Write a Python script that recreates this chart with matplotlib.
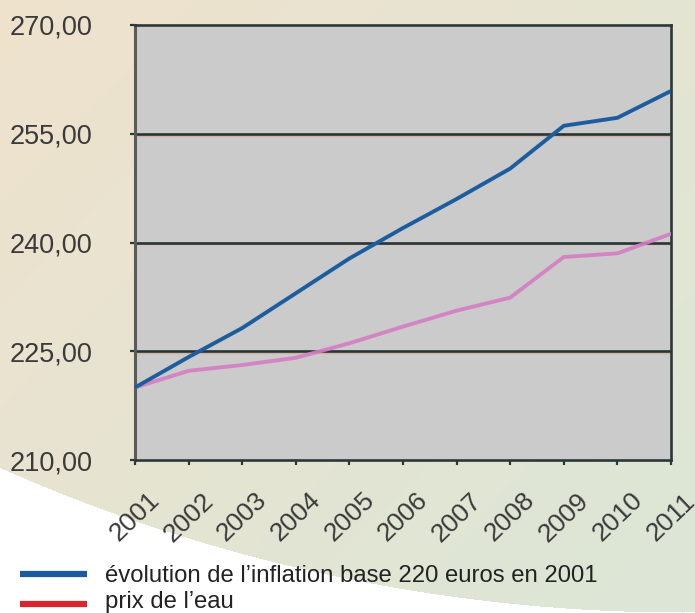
import numpy as np
import matplotlib
matplotlib.use("Agg")
import matplotlib.pyplot as plt

years = [2001, 2002, 2003, 2004, 2005, 2006, 2007, 2008, 2009, 2010, 2011]
inflation = [220.0, 224.2, 228.2, 233.0, 237.8, 242.0, 246.0, 250.2, 256.1, 257.2, 260.9]
prix_eau = [220.0, 222.3, 223.1, 224.1, 226.1, 228.4, 230.6, 232.4, 238.0, 238.5, 241.2]
y_ticks = [210, 225, 240, 255, 270]
y_tick_labels = ["210,00", "225,00", "240,00", "255,00", "270,00"]
x_tick_labels = [str(y) for y in years]
legend_labels = ["évolution de l\u2019inflation base 220 euros en 2001", "prix de l\u2019eau"]

W, H = 695, 613
fig = plt.figure(figsize=(W / 100, H / 100), dpi=100)
fig.patch.set_facecolor("white")

# background gradient with white arc at lower left
bg = fig.add_axes([0, 0, 1, 1], zorder=0)
yy, xx = np.mgrid[0:H, 0:W]
t = np.clip((xx / W) * 0.6 + (yy / H) * 0.5, 0, 1)[..., None]
c1 = np.array([239, 226, 205]) / 255.0
c2 = np.array([221, 230, 214]) / 255.0
img = c1 * (1 - t) + c2 * t
cx, cy, r = 682, -1072, 1684
outside = (xx - cx) ** 2 + (yy - cy) ** 2 > r ** 2
img[outside] = 1.0
bg.imshow(img, extent=[0, W, H, 0], aspect="auto", interpolation="bilinear")
bg.set_xlim(0, W)
bg.set_ylim(H, 0)
bg.axis("off")

ax = fig.add_axes([135 / W, 1 - 460 / H, (671 - 135) / W, (460 - 25) / H], zorder=1)
ax.set_facecolor("#cbcbcb")
ax.set_xlim(years[0], years[-1])
ax.set_ylim(210, 270)

for v in y_ticks[1:-1]:
    ax.axhline(v - 0.25, color="#e0a080", lw=1.0, alpha=0.6, zorder=1)
    ax.axhline(v, color="#263535", lw=1.9, zorder=2)

ax.plot(years, prix_eau, color="#d57ec3", lw=2.8, alpha=0.9, zorder=3, solid_capstyle="round")
ax.plot(years, inflation, color="#1c5d9f", lw=2.8, zorder=4, solid_capstyle="round")

for s in ["top", "right", "bottom"]:
    ax.spines[s].set_color("#2c3838")
    ax.spines[s].set_linewidth(1.9)
ax.spines["left"].set_color("#5a5a5a")
ax.spines["left"].set_linewidth(2.2)

ax.set_yticks(y_ticks)
ax.set_yticklabels(y_tick_labels, fontsize=19.5, color="#3a3a3a", family="Liberation Sans")
ax.set_xticks(years)
ax.set_xticklabels(x_tick_labels, fontsize=19, color="#3a3a3a", family="Liberation Sans",
                   rotation=44, ha="center", va="center", rotation_mode="anchor")
ax.tick_params(axis="y", length=3.6, width=1.6, color="#2c3838", pad=27)
ax.tick_params(axis="x", length=3.6, width=1.6, color="#2c3838", pad=37.5)

# legend
lc = ["#1c5a9e", "#d8262e"]
for i, (lab, c) in enumerate(zip(legend_labels, lc)):
    yl = 574 + 30 * i
    bg.plot([20, 87], [yl, yl], color=c, lw=4.5, solid_capstyle="butt")
    fig.text(105 / W, 1 - (582 + 26 * i) / H, lab, fontsize=17.2, color="#222222",
             family="Liberation Sans", va="baseline", ha="left")

fig.savefig("out.png", dpi=100)
